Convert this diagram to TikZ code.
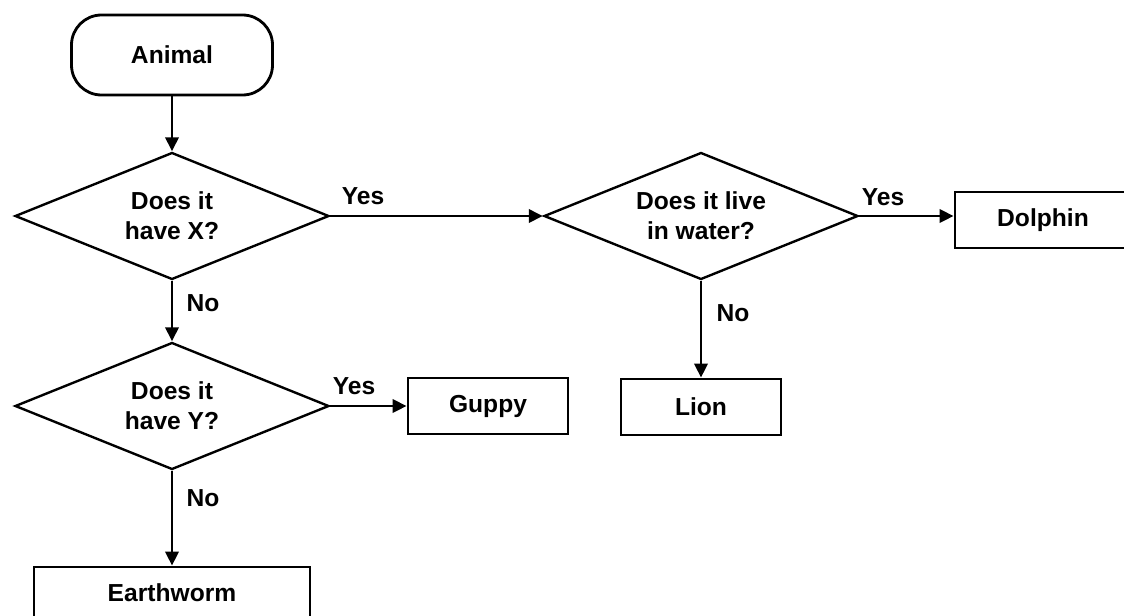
\documentclass[tikz,border=0pt]{standalone}
\usepackage{fontspec}
\setmainfont{Liberation Sans}
\usetikzlibrary{shapes.geometric,arrows.meta}

\begin{document}
\begin{tikzpicture}
[
    x=0.25mm,y=-0.25mm,
    line width=2pt,
    mybox/.style={rectangle,draw=black,align=center,inner sep=0pt,font=\bfseries\fontsize{17.5}{21.5}\selectfont},
    start/.style={mybox,rounded corners=7.5mm,minimum width=50.25mm,minimum height=20mm},
    question/.style={mybox,diamond,aspect=2.5,line width=1.7pt,minimum width=78.5mm,minimum height=31.75mm},
    answer/.style={mybox,minimum width=40mm,minimum height=14mm},
    choice/.style={inner sep=0pt,font=\bfseries\fontsize{17.5}{21.5}\selectfont},
    flow/.style={-{Triangle[length=3.5mm,width=3.3mm]}}
]
\useasboundingbox (0,0) rectangle (1124,615);

\node (animal) at (172,55) [start] {Animal};
\node (havex) at (172,216) [question] {Does it\\have X?};
\node (water) at (701,216) [question] {Does it live\\in water?};
\node (dolphin) at (1043,220) [answer,minimum width=44mm] {Dolphin};
\node (lion) at (701,407) [answer] {Lion};
\node (havey) at (172,406) [question] {Does it\\have Y?};
\node (guppy) at (488,406) [answer] {Guppy};
\node (earthworm) at (172,593) [answer,minimum width=69mm,minimum height=13mm] {Earthworm};

\node (yesx) at (363,196) [choice] {Yes};
\node (yeswater) at (883,197) [choice] {Yes};
\node (yesy) at (354,386) [choice] {Yes};
\node (nox) at (203,303) [choice] {No};
\node (nowater) at (733,313) [choice] {No};
\node (noy) at (203,498) [choice] {No};

\draw[flow] (animal) -- (havex);
\draw[flow] (havex.east) -- (water.west);
\draw[flow] (water.east) -- (dolphin.west |- water.east);
\draw[flow] (water) -- (lion);
\draw[flow] (havex) -- (havey);
\draw[flow] (havey.east) -- (guppy.west);
\draw[flow] (havey) -- (earthworm);

\end{tikzpicture}
\end{document}
